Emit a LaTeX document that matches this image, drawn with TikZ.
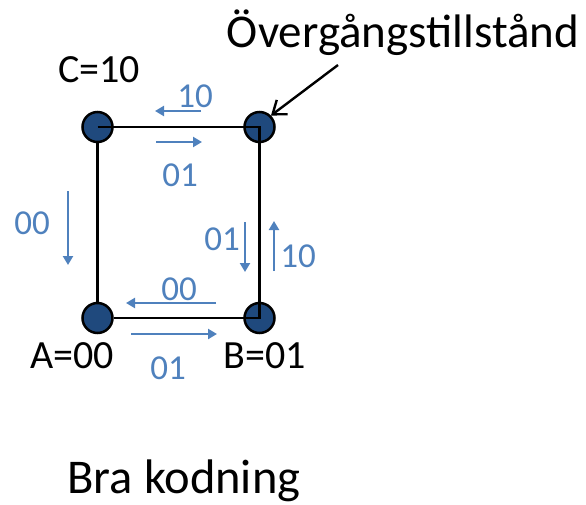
\documentclass[tikz,border=0pt]{standalone}
\usepackage{fontspec}
\setmainfont{Carlito}
\usetikzlibrary{arrows.meta}
\definecolor{stfill}{HTML}{1F497D}
\definecolor{lblue}{HTML}{4F81BD}
\tikzset{
  state/.style={circle, fill=stfill, draw=black, line width=2.5pt, minimum size=30pt, inner sep=0pt},
  edge/.style={black, line width=2.8pt},
  barrow/.style={lblue, line width=2.9pt, -{Triangle[length=9pt,width=10pt]}},
  blbl/.style={text=lblue, font=\fontsize{35}{42}\selectfont, inner sep=0pt},
  klbl/.style={text=black, font=\fontsize{40}{48}\selectfont, inner sep=0pt},
  big/.style={text=black, font=\fontsize{47}{56}\selectfont, inner sep=0pt, anchor=base},
}
\begin{document}
\begin{tikzpicture}[x=1pt,y=-1pt]
\useasboundingbox (0,0) rectangle (586,504);
% states
\node[state] (C) at (97.5,127) {};
\node[state] (T) at (259.5,127) {};
\node[state] (A) at (97.5,318) {};
\node[state] (B) at (259.5,318) {};
% square edges
\draw[edge] (C.south) -- (A.north);
\draw[edge] (C.center) -- (T.center) -- (B.center) -- (A.east);
% state labels
\node[klbl] (lc) at (99,70) {C=10};
\node[klbl] (la) at (72,356) {A=00};
\node[klbl] (lb) at (265,356) {B=01};
% title labels
\node[big] (ov) at (403,47) {Övergångstillstånd};
\node[big, font=\fontsize{48.5}{58}\selectfont] (bra) at (184,493) {Bra kodning};
\coordinate (ovtip) at (338,65);
\draw[black, line width=2.4pt, -{Straight Barb[length=12pt,width=18pt]}] (ovtip) -- (T.north east);
% blue transition arrows
\coordinate (a1s) at (201,111); \coordinate (a1e) at (155,111);
\coordinate (a2s) at (156,142); \coordinate (a2e) at (202,142);
\coordinate (a3s) at (68,191);  \coordinate (a3e) at (68,265);
\coordinate (a4s) at (245,222); \coordinate (a4e) at (245,272);
\coordinate (a5s) at (274,271); \coordinate (a5e) at (274,221);
\coordinate (a6s) at (216,303); \coordinate (a6e) at (126,303);
\coordinate (a7s) at (131,334); \coordinate (a7e) at (217,334);
\draw[barrow] (a1s) -- (a1e);
\draw[barrow] (a2s) -- (a2e);
\draw[barrow] (a3s) -- (a3e);
\draw[barrow] (a4s) -- (a4e);
\draw[barrow] (a5s) -- (a5e);
\draw[barrow] (a6s) -- (a6e);
\draw[barrow] (a7s) -- (a7e);
% blue labels
\node[blbl] (t1) at (195,96) {10};
\node[blbl] (t2) at (180,175) {01};
\node[blbl] (t3) at (32,223) {00};
\node[blbl] (t4) at (222,239) {01};
\node[blbl] (t5) at (298,256) {10};
\node[blbl] (t6) at (179,289) {00};
\node[blbl] (t7) at (168,368) {01};
\end{tikzpicture}
\end{document}
